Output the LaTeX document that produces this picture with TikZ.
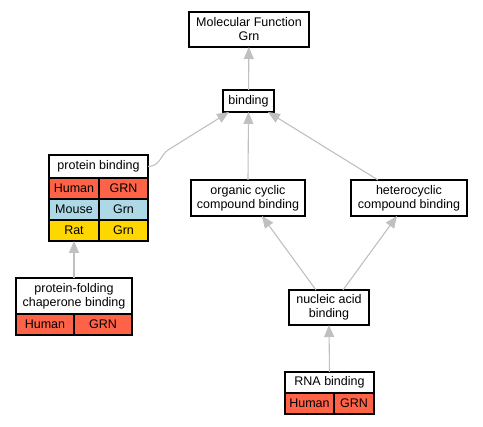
\documentclass[tikz,border=0pt]{standalone}
\usepackage{fontspec}
\setmainfont{Liberation Sans}
\usepackage{tikz}
\usetikzlibrary{arrows.meta,positioning}
\definecolor{mytomato}{RGB}{255,99,71}
\definecolor{mylightblue}{RGB}{173,216,230}
\definecolor{mygold}{RGB}{255,215,0}
\definecolor{myedgegray}{RGB}{192,192,192}

\begin{document}
\begin{tikzpicture}[
  x=1pt, y=-1pt,
  font=\fontsize{12.5}{14}\selectfont,
  myterm/.style 2 args={
    draw,
    fill=white,
    line width=1.2pt,
    align=center,
    inner sep=0pt,
    outer sep=0pt,
    minimum width=#1,
    minimum height=#2
    },
  mycell/.style 2 args={
    draw,
    fill=#1,
    line width=1.2pt,
    inner sep=0pt,
    outer sep=0pt,
    minimum width=#2,
    minimum height=21
    },
  myedge/.style={
    draw=myedgegray,
    line width=1.1pt,
    -{Triangle[width=10pt,length=12pt]}
  }
]
\useasboundingbox (0,0) rectangle (483,427);

\node[myterm={120}{35}] (molfunc) at (249,29.5) {Molecular Function\\Grn};
\node[myterm={51}{22}] (binding) at (248.5,101) {binding};
\node[myterm={114}{36}] (orgcyc) at (248,198) {organic cyclic\\compound binding};
\node[myterm={116}{36}] (hetcyc) at (409,198) {heterocyclic\\compound binding};
\node[myterm={80}{35}] (nucacid) at (329,307.5) {nucleic acid\\binding};

% protein binding table
\node[myterm={99}{23}] (protbind) at (98.5,166.5) {protein binding};
\foreach \Species/\Gene/\Shade [count=\Row from 1] in {Human/GRN/mytomato, Mouse/Grn/mylightblue, Rat/Grn/mygold}
{
  \node[mycell={\Shade}{50}, anchor=north west]
    (protbindsp\Row) at ([yshift={-21*(\Row-1)}]protbind.south west) {\Species};
  \node[mycell={\Shade}{49}, anchor=north west]
    (protbindgn\Row) at (protbindsp\Row.north east) {\Gene};
}

% protein-folding chaperone binding table
\node[myterm={116}{36}] (protfold) at (74,296) {protein-folding\\chaperone binding};
\node[mycell={mytomato}{58}, anchor=north west] (protfoldsp) at (protfold.south west) {Human};
\node[mycell={mytomato}{58}, anchor=north west] (protfoldgn) at (protfoldsp.north east) {GRN};

% RNA binding table
\node[myterm={89}{21}] (rnabind) at (329.5,382.5) {RNA binding};
\node[mycell={mytomato}{49}, anchor=north west] (rnabindsp) at (rnabind.south west) {Human};
\node[mycell={mytomato}{40}, anchor=north west] (rnabindgn) at (rnabindsp.north east) {GRN};

% edges
\coordinate (pbturn) at (168,150);
\draw[myedge] (binding) -- (molfunc);
\draw[myedge] (orgcyc.north) -- (binding.south);
\draw[myedge] (protbind.east) .. controls +(12,0) and +(-7,4.5) .. (pbturn)
  -- ([xshift=6]binding.south west);
\draw[myedge] ([xshift=-31]hetcyc.north) -- ([xshift=19.5]binding.south);
\draw[myedge] (protfold.north) -- (protbindsp3.south);
\draw[myedge] ([xshift=-13]nucacid.north) -- ([xshift=14]orgcyc.south);
\draw[myedge] ([xshift=14]nucacid.north) -- ([xshift=-12]hetcyc.south);
\draw[myedge] (rnabind.north) -- (nucacid.south);

\end{tikzpicture}
\end{document}
